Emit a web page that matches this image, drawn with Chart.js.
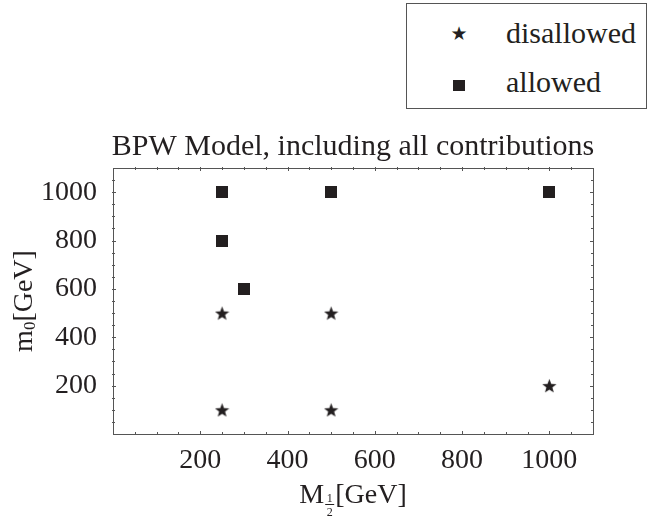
<!DOCTYPE html>
<html>
<head>
<meta charset="utf-8">
<script src="https://cdn.jsdelivr.net/npm/chart.js@4.4.1/dist/chart.umd.min.js"></script>
<style>
  html, body { margin: 0; padding: 0; background: #fff; }
  #wrap { position: relative; width: 648px; height: 520px; }
  #legend {
    position: absolute; left: 406px; top: 3px; width: 241px; height: 106px;
    border: 1px solid #555; box-sizing: border-box; background: #fff;
    font-family: "Liberation Serif", "Times New Roman", serif; font-size: 30px; color: #231f20;
  }
  .row { position: absolute; left: 0; height: 32px; line-height: 32px; }
  .sym { position: absolute; left: 40px; width: 24px; text-align: center; }
  .lab { position: absolute; left: 99px; white-space: nowrap; }
  .star { font-family: "DejaVu Sans", sans-serif; font-size: 19px; }
  .sq { display: inline-block; width: 12px; height: 11px; background: #231f20; vertical-align: middle; }
</style>
</head>
<body>
<div id="wrap">
  <canvas id="c" width="648" height="520"></canvas>
  <div id="legend">
    <div class="row" style="top:13px"><span class="sym star">★</span><span class="lab">disallowed</span></div>
    <div class="row" style="top:62px"><span class="sym"><span class="sq"></span></span><span class="lab">allowed</span></div>
  </div>
</div>
<script>
// data (GeV)
const disallowedX = [250, 250, 500, 500, 1000];
const disallowedY = [100, 500, 500, 100, 200];
const allowedX = [250, 250, 300, 500, 1000];
const allowedY = [1000, 800, 600, 1000, 1000];
const tickValues = [200, 400, 600, 800, 1000];

const ink = '#231f20';
const serif = '"Liberation Serif", "Times New Roman", serif';

// filled five-pointed star marker
function makeStar(size) {
  const cv = document.createElement('canvas');
  cv.width = size; cv.height = size;
  const g = cv.getContext('2d');
  const cx = size / 2, cy = size / 2 + size * 0.05;
  const R = size / 2, r = R * 0.42;
  g.beginPath();
  for (let i = 0; i < 10; i++) {
    const a = -Math.PI / 2 + i * Math.PI / 5;
    const rad = i % 2 ? r : R;
    g.lineTo(cx + rad * Math.cos(a), cy + rad * Math.sin(a));
  }
  g.closePath();
  g.fillStyle = ink;
  g.fill();
  return cv;
}
function makeSquare(size) {
  const cv = document.createElement('canvas');
  cv.width = size; cv.height = size;
  const g = cv.getContext('2d');
  g.fillStyle = ink;
  g.fillRect(0, 0, size, size);
  return cv;
}

const pts = (xs, ys) => xs.map((x, i) => ({ x: x, y: ys[i] }));

// frame with small ticks on all four sides, title and axis labels
const framePlugin = {
  id: 'frame',
  afterDraw(chart) {
    const ctx = chart.ctx;
    const a = chart.chartArea;
    const xs = chart.scales.x, ys = chart.scales.y;
    ctx.save();
    ctx.strokeStyle = '#555';
    ctx.lineWidth = 1;
    ctx.strokeRect(a.left + 0.5, a.top + 0.5, a.right - a.left, a.bottom - a.top);
    ctx.beginPath();
    for (let v = 50; v < 1100; v += 50) {
      const major = v % 200 === 0;
      const L = major ? 3 : 2;
      const px = Math.round(xs.getPixelForValue(v)) + 0.5;
      ctx.moveTo(px, a.bottom - L); ctx.lineTo(px, a.bottom + 1);
      ctx.moveTo(px, a.top - 1); ctx.lineTo(px, a.top + L);
      const py = Math.round(ys.getPixelForValue(v)) + 0.5;
      ctx.moveTo(a.left - 1, py); ctx.lineTo(a.left + L, py);
      ctx.moveTo(a.right - L, py); ctx.lineTo(a.right + 1, py);
    }
    ctx.stroke();

    ctx.fillStyle = ink;
    ctx.textBaseline = 'alphabetic';
    ctx.textAlign = 'center';
    ctx.font = '30px ' + serif;
    ctx.fillText('BPW Model, including all contributions', (a.left + a.right) / 2, 155);

    // M_{1/2}[GeV]
    ctx.textAlign = 'left';
    ctx.font = '28px ' + serif;
    const base = 503;
    const wM = ctx.measureText('M').width;
    ctx.font = '12px ' + serif;
    const wF = ctx.measureText('1').width + 5;
    ctx.font = '28px ' + serif;
    const wG = ctx.measureText('[GeV]').width;
    let x0 = (a.left + a.right) / 2 - (wM + wF + wG) / 2;
    ctx.fillText('M', x0, base);
    x0 += wM;
    ctx.font = '12px ' + serif;
    ctx.textAlign = 'center';
    ctx.fillText('1', x0 + wF / 2, base - 1);
    ctx.fillRect(x0 + 1, base + 1, wF - 2, 1);
    ctx.fillText('2', x0 + wF / 2, base + 13);
    ctx.textAlign = 'left';
    ctx.font = '28px ' + serif;
    ctx.fillText('[GeV]', x0 + wF, base);

    // m_0[GeV], rotated
    ctx.translate(32, (a.top + a.bottom) / 2);
    ctx.rotate(-Math.PI / 2);
    ctx.font = '28px ' + serif;
    const wm = ctx.measureText('m').width;
    const wG2 = ctx.measureText('[GeV]').width;
    ctx.font = '17px ' + serif;
    const w0 = ctx.measureText('0').width;
    let y0 = -(wm + w0 + wG2) / 2;
    ctx.font = '28px ' + serif;
    ctx.fillText('m', y0, 0);
    ctx.font = '17px ' + serif;
    ctx.fillText('0', y0 + wm, 3);
    ctx.font = '28px ' + serif;
    ctx.fillText('[GeV]', y0 + wm + w0, 0);
    ctx.restore();
  }
};

new Chart(document.getElementById('c'), {
  type: 'scatter',
  data: {
    datasets: [
      { label: 'disallowed', data: pts(disallowedX, disallowedY), pointStyle: makeStar(15) },
      { label: 'allowed', data: pts(allowedX, allowedY), pointStyle: makeSquare(12) }
    ]
  },
  options: {
    responsive: false,
    animation: false,
    layout: { padding: { top: 168, right: 55, left: 0, bottom: 0 } },
    plugins: { legend: { display: false }, tooltip: { enabled: false }, title: { display: false } },
    scales: {
      x: {
        type: 'linear', min: 0, max: 1100,
        grid: { display: false }, border: { display: false },
        afterBuildTicks: (s) => { s.ticks = tickValues.map(v => ({ value: v })); },
        afterFit: (s) => { s.height = 86; },
        ticks: { font: { family: serif, size: 28 }, color: ink, padding: 2, maxRotation: 0, callback: (v) => String(v) }
      },
      y: {
        type: 'linear', min: 0, max: 1100,
        grid: { display: false }, border: { display: false },
        afterBuildTicks: (s) => { s.ticks = tickValues.map(v => ({ value: v })); },
        afterFit: (s) => { s.width = 113; },
        ticks: { font: { family: serif, size: 28 }, color: ink, padding: 8, callback: (v) => String(v) }
      }
    }
  },
  plugins: [framePlugin]
});
</script>
</body>
</html>
